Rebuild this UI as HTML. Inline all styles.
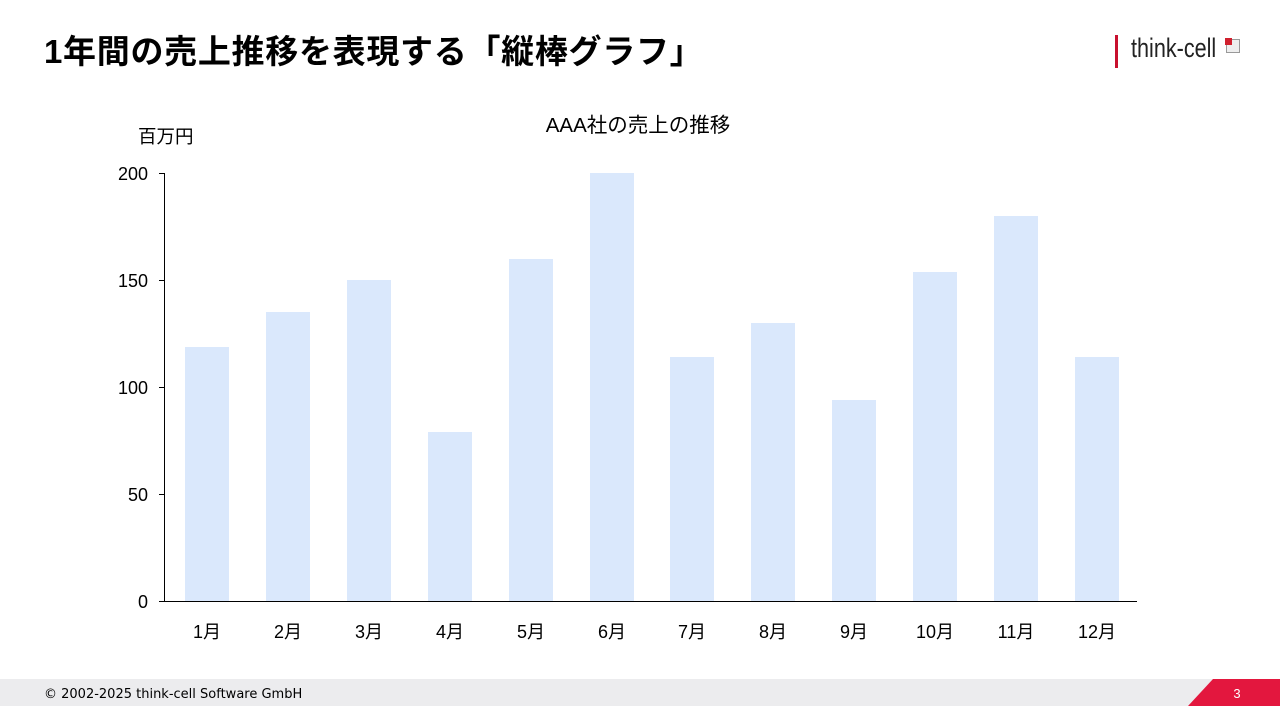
<!DOCTYPE html>
<html><head><meta charset="utf-8"><style>
body{margin:0;width:1280px;height:720px;background:#fff;position:relative;overflow:hidden;font-family:"Liberation Sans","Noto Sans CJK JP",sans-serif}
.t{position:absolute}
</style></head><body>
<div class="t" style="left:44px;top:25px;font-size:33px;font-weight:bold;color:#000;letter-spacing:0.7px;white-space:nowrap">1年間の売上推移を表現する「縦棒グラフ」</div>
<div class="t" style="left:1115px;top:35px;width:3px;height:33px;background:#c8102e"></div>
<div class="t" style="left:1131px;top:33px;font-size:27px;color:#222;transform:scaleX(0.8);transform-origin:left">think-cell</div>
<div class="t" style="left:1226px;top:39px;width:12px;height:12px;border:1px solid #999;background:#eee"></div>
<div class="t" style="left:1225px;top:38px;width:7px;height:7px;background:#d0202e"></div>
<svg class="t" style="left:0;top:0" width="1280" height="720">
<g fill="#dae8fc">
<rect x="185" y="347" width="44" height="254"/>
<rect x="266" y="312" width="44" height="289"/>
<rect x="347" y="280" width="44" height="321"/>
<rect x="428" y="432" width="44" height="169"/>
<rect x="509" y="259" width="44" height="342"/>
<rect x="590" y="173" width="44" height="428"/>
<rect x="670" y="357" width="44" height="244"/>
<rect x="751" y="323" width="44" height="278"/>
<rect x="832" y="400" width="44" height="201"/>
<rect x="913" y="272" width="44" height="329"/>
<rect x="994" y="216" width="44" height="385"/>
<rect x="1075" y="357" width="44" height="244"/>
</g>
<g stroke="#000" stroke-width="1">
<line x1="164.5" y1="173" x2="164.5" y2="601"/>
<line x1="164" y1="601.5" x2="1137" y2="601.5"/>
<line x1="159" y1="173.5" x2="164" y2="173.5"/>
<line x1="159" y1="280.5" x2="164" y2="280.5"/>
<line x1="159" y1="387.5" x2="164" y2="387.5"/>
<line x1="159" y1="494.5" x2="164" y2="494.5"/>
<line x1="159" y1="601.5" x2="164" y2="601.5"/>
</g>
<g font-family="Liberation Sans, Noto Sans CJK JP, sans-serif" font-size="18" fill="#000">
<text x="148" y="180" text-anchor="end">200</text>
<text x="148" y="287" text-anchor="end">150</text>
<text x="148" y="394" text-anchor="end">100</text>
<text x="148" y="501" text-anchor="end">50</text>
<text x="148" y="608" text-anchor="end">0</text>
<g text-anchor="middle">
<text x="207" y="638">1月</text><text x="288" y="638">2月</text><text x="369" y="638">3月</text>
<text x="450" y="638">4月</text><text x="531" y="638">5月</text><text x="612" y="638">6月</text>
<text x="692" y="638">7月</text><text x="773" y="638">8月</text><text x="854" y="638">9月</text>
<text x="935" y="638">10月</text><text x="1016" y="638">11月</text><text x="1097" y="638">12月</text>
</g>
<text x="138" y="143" font-size="18.5">百万円</text>
<text x="638" y="132" text-anchor="middle" font-size="20.5">AAA社の売上の推移</text>
</g>
<rect x="0" y="679" width="1280" height="27" fill="#ececee"/>
<polygon points="1213,679 1280,679 1280,706 1188,706" fill="#e3173e"/>
<text x="1237" y="698" font-family="Liberation Sans, sans-serif" font-size="13" fill="#fff" text-anchor="middle">3</text>
<text x="44" y="698" font-family="DejaVu Sans, sans-serif" font-size="13" fill="#000">© 2002-2025 think-cell Software GmbH</text>
</svg>
</body></html>
